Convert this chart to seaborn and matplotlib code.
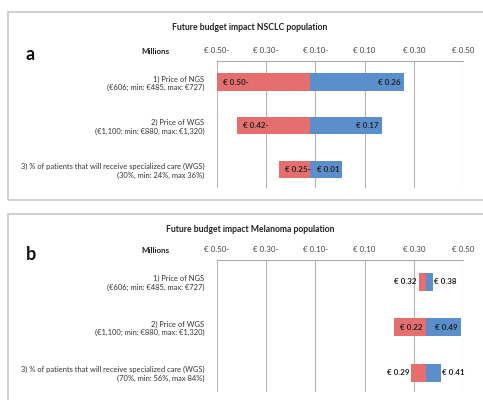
import matplotlib
matplotlib.use("Agg")
import matplotlib.pyplot as plt
from matplotlib.patches import Rectangle
import seaborn as sns
import pandas as pd

# ---- data (millions of euro) ----
params_a = ["1) Price of NGS\n(€606; min: €485, max: €727)",
            "2) Price of WGS\n(€1,100; min: €880, max: €1,320)",
            "3) % of patients that will receive specialized care (WGS)\n(30%, min: 24%, max 36%)"]
params_b = ["1) Price of NGS\n(€606; min: €485, max: €727)",
            "2) Price of WGS\n(€1,100; min: €880, max: €1,320)",
            "3) % of patients that will receive specialized care (WGS)\n(70%, min: 56%, max 84%)"]
low_a = [-0.50, -0.42, -0.25]
high_a = [0.26, 0.17, 0.01]
base_a = -0.12
low_b = [0.32, 0.22, 0.29]
high_b = [0.38, 0.49, 0.41]
base_b = 0.35
ticks = [-0.5, -0.3, -0.1, 0.1, 0.3, 0.5]
tick_labels = ["€ 0.50-", "€ 0.30-", "€ 0.10-", "€ 0.10", "€ 0.30", "€ 0.50"]

RED = "#e56e6e"
BLUE = "#5b8fcb"
W, H = 483, 400

sns.set_style("white")
plt.rcParams["font.family"] = ["Lato", "DejaVu Sans"]

fig = plt.figure(figsize=(W / 100, H / 100), dpi=100)


def fmt(v):
    return f"€ {abs(v):.2f}" + ("-" if v < 0 else "")


def draw_panel(top_px, bottom_px, box_top, box_bottom, title, letter, params, low, high, base):
    # grey frame round the panel
    fig.add_artist(Rectangle((8 / W, 1 - box_bottom / H), 1.0, (box_bottom - box_top) / H,
                             transform=fig.transFigure, fill=False, ec="#c8c8c8", lw=1.2))
    ax = fig.add_axes([217 / W, 1 - bottom_px / H, 246 / W, (bottom_px - top_px) / H])

    df = pd.DataFrame({"param": params, "low": low, "high": high})
    df["low_w"] = df["low"] - base
    df["high_w"] = df["high"] - base

    sns.barplot(data=df, x="low_w", y="param", color=RED, width=0.39, left=base,
                saturation=1, linewidth=0, edgecolor="none", ax=ax, zorder=3)
    sns.barplot(data=df, x="high_w", y="param", color=BLUE, width=0.39, left=base,
                saturation=1, linewidth=0, edgecolor="none", ax=ax, zorder=3)

    lw_lab = 0.09
    for i, (lo, hi) in enumerate(zip(low, high)):
        if base - lo > lw_lab:
            ax.text(lo + 0.025, i, fmt(lo), ha="left", va="center", fontsize=5.8,
                    fontweight="bold", color="#222222", zorder=4)
        else:
            ax.text(lo - 0.008, i, fmt(lo), ha="right", va="center", fontsize=5.8,
                    fontweight="bold", color="#222222", zorder=4)
        if hi - base > lw_lab:
            ax.text(hi - 0.012, i, fmt(hi), ha="right", va="center", fontsize=5.8,
                    fontweight="bold", color="#222222", zorder=4)
        else:
            ax.text(hi + 0.004, i, fmt(hi), ha="left", va="center", fontsize=5.8,
                    fontweight="bold", color="#222222", zorder=4)

    ax.set_xlim(-0.5, 0.5)
    ax.set_ylim(2.42, -0.48)
    ax.xaxis.tick_top()
    ax.set_xticks(ticks)
    ax.set_xticklabels(tick_labels, fontsize=5.8, color="#444444")
    ax.tick_params(axis="x", length=0, pad=5)
    ax.tick_params(axis="y", length=0, pad=9, labelsize=5.45, labelcolor="#333333")
    ax.set_xlabel("")
    ax.set_ylabel("")
    ax.grid(axis="x", color="#b5b5b5", lw=0.8, zorder=0)
    for s in ["left", "right", "bottom"]:
        ax.spines[s].set_visible(False)
    ax.spines["top"].set_color("#aaaaaa")
    ax.spines["top"].set_linewidth(0.8)

    fig.text(250 / W, 1 - (box_top + 15) / H, title, ha="center", va="center",
             fontsize=6.2, fontweight="bold", color="#222222")
    fig.text(155 / W, 1 - (top_px - 9) / H, "Millions", ha="center", va="center",
             fontsize=5.8, fontweight="bold", color="#222222")
    fig.text(26 / W, 1 - (top_px - 6) / H, letter, ha="left", va="center",
             fontsize=13, fontweight="bold", color="#111111")


draw_panel(61, 188, 12, 200, "Future budget impact NSCLC population", "a",
           params_a, low_a, high_a, base_a)
draw_panel(260, 392, 214, 405, "Future budget impact Melanoma population", "b",
           params_b, low_b, high_b, base_b)

fig.savefig("out.png", dpi=100)
